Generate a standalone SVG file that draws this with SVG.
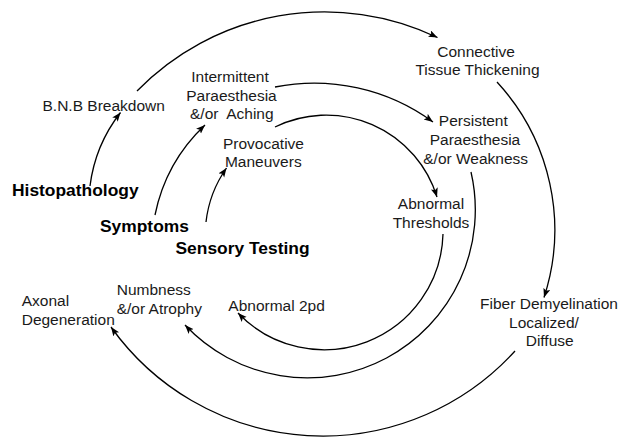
<svg xmlns="http://www.w3.org/2000/svg" width="622" height="438" viewBox="0 0 622 438">
<defs>
<marker id="ah" markerUnits="userSpaceOnUse" markerWidth="10" markerHeight="8" refX="9" refY="3.5" orient="auto">
<path d="M0,0 L9,3.5 L0,7 L2,3.5 z" fill="#000"/>
</marker>
<style>
.c{fill:none;stroke:#000;stroke-width:1.3;marker-end:url(#ah)}
.n{fill:none;stroke:#000;stroke-width:1.3}
text{font-family:"Liberation Sans",Arial,sans-serif;font-size:15.5px;fill:#1a1a1a}
.b{font-weight:bold;font-size:17.4px;fill:#000}
.m{text-anchor:middle}
</style>
</defs>
<rect width="622" height="438" fill="#fff"/>
<g id="connectors">
<path class="c" d="M90,186 A150,150 0 0 1 120.5,112.5"/>
<path class="c" d="M137,91 A262,262 0 0 1 437.5,37.5"/>
<path class="c" d="M497,82 A218,218 0 0 1 544,297.5"/>
<path class="c" d="M515,351 A260,260 0 0 1 111,327"/>
<path class="c" d="M155,215 A170,170 0 0 1 205,125"/>
<path class="c" d="M275,87 A201,201 0 0 1 433,122"/>
<path class="c" d="M471,172 A168,168 0 0 1 185,325"/>
<path class="c" d="M206,222 A117,117 0 0 1 226.5,168"/>
<path class="c" d="M275,127 A116,116 0 0 1 437,197"/>
<path class="c" d="M443,234 A119,119 0 0 1 238,313"/>
</g>
<g id="histopathology"><text class="b" x="12" y="196">Histopathology</text></g>
<g id="symptoms"><text class="b" x="100" y="232">Symptoms</text></g>
<g id="sensory-testing"><text class="b" x="175.5" y="254">Sensory Testing</text></g>
<g id="bnb"><text x="42.5" y="111">B.N.B Breakdown</text></g>
<g id="connective"><text class="m" x="476" y="56.5">Connective</text><text class="m" x="477.5" y="75.3">Tissue Thickening</text></g>
<g id="intermittent"><text class="m" x="230" y="81.7">Intermittent</text><text class="m" x="231.5" y="100.5">Paraesthesia</text><text class="m" x="231.8" y="119.3" xml:space="preserve">&amp;/or  Aching</text></g>
<g id="provocative"><text class="m" x="263.5" y="149">Provocative</text><text class="m" x="263.3" y="166.7">Maneuvers</text></g>
<g id="persistent"><text class="m" x="473.3" y="126">Persistent</text><text class="m" x="475" y="145">Paraesthesia</text><text class="m" x="475.7" y="164">&amp;/or Weakness</text></g>
<g id="thresholds"><text class="m" x="431" y="209.3">Abnormal</text><text class="m" x="431" y="228">Thresholds</text></g>
<g id="demyelination"><text class="m" x="549" y="309.3">Fiber Demyelination</text><text class="m" x="544" y="327.8">Localized/</text><text class="m" x="549.7" y="346.3">Diffuse</text></g>
<g id="axonal"><text x="21.7" y="306">Axonal</text><text x="21.7" y="325">Degeneration</text></g>
<g id="numbness"><text x="116.7" y="295">Numbness</text><text x="116.7" y="314">&amp;/or Atrophy</text></g>
<g id="twopd"><text x="228.3" y="311">Abnormal 2pd</text></g>
</svg>
